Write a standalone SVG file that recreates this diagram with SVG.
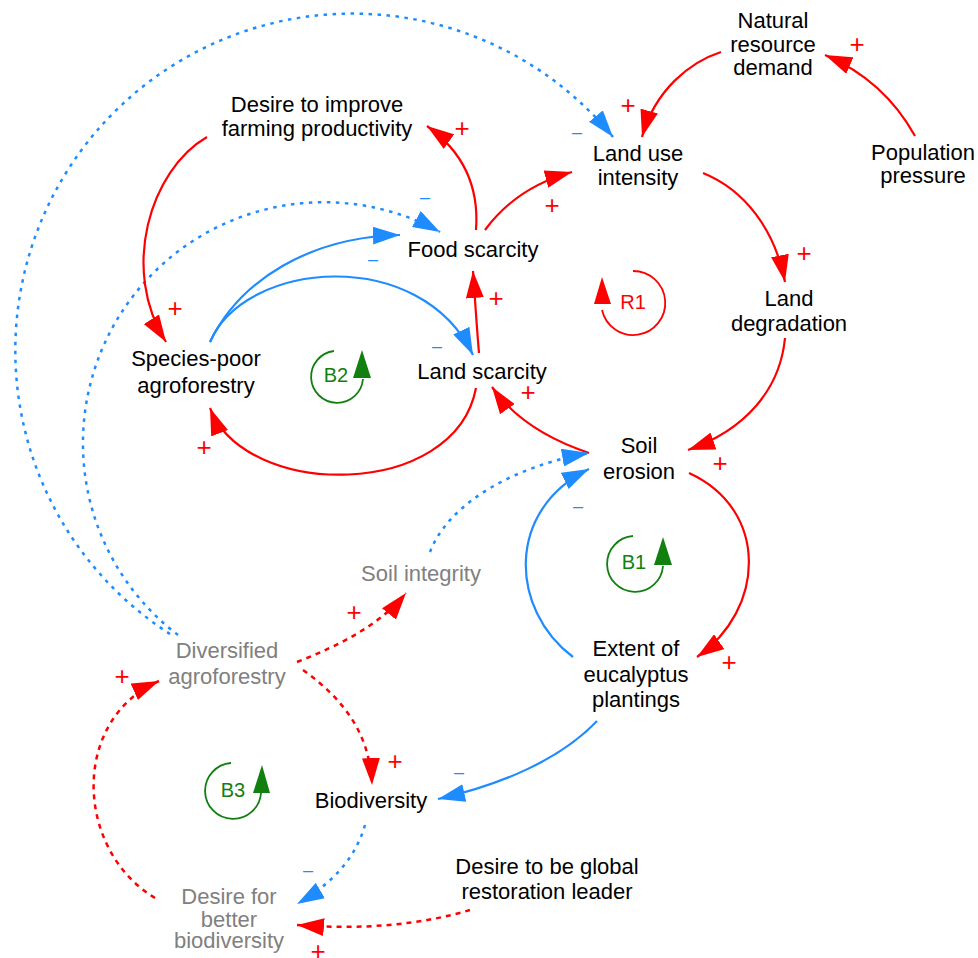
<svg xmlns="http://www.w3.org/2000/svg" width="978" height="958" viewBox="0 0 978 958">
<style>
  .n { font-family: "Liberation Sans", Arial, sans-serif; font-size: 22px; fill: #000; text-anchor: middle; }
  .g { fill: #808080; }
  .lp { font-family: "Liberation Sans", Arial, sans-serif; font-size: 20px; text-anchor: middle; }
  .sp { font-family: "Liberation Sans", Arial, sans-serif; font-size: 26px; fill: #ff0000; text-anchor: middle; }
  .sm { font-family: "Liberation Sans", Arial, sans-serif; font-size: 18px; fill: #1e8cff; text-anchor: middle; }
  .r { fill: none; stroke: #ff0000; stroke-width: 2.2; }
  .b { fill: none; stroke: #1e8cff; stroke-width: 2.2; }
  .rd { fill: none; stroke: #ff0000; stroke-width: 2.5; stroke-dasharray: 5 5; }
  .bd { fill: none; stroke: #1e8cff; stroke-width: 2.5; stroke-dasharray: 3.5 5.5; }
  .ra { marker-end: url(#ar); }
  .ba { marker-end: url(#ab); }
  .loopR { fill: none; stroke: #ff0000; stroke-width: 1.8; }
  .loopG { fill: none; stroke: #118011; stroke-width: 1.8; }
</style>
<defs>
  <marker id="ar" viewBox="0 0 27 18" refX="27" refY="9" markerWidth="27" markerHeight="18" markerUnits="userSpaceOnUse" orient="auto">
    <path d="M0,0 L27,9 L0,18 Z" fill="#ff0000"/>
  </marker>
  <marker id="ab" viewBox="0 0 27 18" refX="27" refY="9" markerWidth="27" markerHeight="18" markerUnits="userSpaceOnUse" orient="auto">
    <path d="M0,0 L27,9 L0,18 Z" fill="#1e8cff"/>
  </marker>
</defs>

<g id="connectors">
  <!-- Natural resource demand -> Land use intensity -->
  <path class="r ra" d="M721,52 C690,62 655,90 642,137"/>
  <!-- Population pressure -> Natural resource demand -->
  <path class="r ra" d="M915,136 C895,100 865,72 825,55"/>
  <!-- Diversified agroforestry -> Land use intensity (outer dotted) -->
  <path class="bd ba" d="M170,634 A337,337 0 1 1 613,137"/>
  <!-- Diversified agroforestry -> Food scarcity (inner dotted) -->
  <path class="bd ba" d="M178,635 A241,241 0 0 1 440,232"/>
  <!-- Desire to improve -> Species-poor -->
  <path class="r ra" d="M207,137 C150,170 120,270 166,342"/>
  <!-- Food scarcity -> Desire to improve -->
  <path class="r ra" d="M476,230 C479,190 465,153 427,126"/>
  <!-- Food scarcity -> Land use intensity -->
  <path class="r ra" d="M485,230 C505,203 535,182 572,172"/>
  <!-- Land use intensity -> Land degradation -->
  <path class="r ra" d="M703,173 C745,190 775,230 785,282"/>
  <!-- Land degradation -> Soil erosion -->
  <path class="r ra" d="M785,338 C780,390 745,430 688,450"/>
  <!-- Soil erosion -> Land scarcity -->
  <path class="r ra" d="M589,453 C550,440 515,420 492,387"/>
  <!-- Land scarcity -> Food scarcity -->
  <path class="r ra" d="M479,353 C477,330 475,300 473,271"/>
  <!-- Land scarcity -> Species-poor -->
  <path class="r ra" d="M476,388 C455,500 245,500 210,408"/>
  <!-- Species-poor -> Food scarcity -->
  <path class="b ba" d="M210,342 C240,280 310,237 400,235"/>
  <!-- Species-poor -> Land scarcity -->
  <path class="b ba" d="M210,342 C245,260 420,245 473,355"/>
  <!-- Soil integrity -> Soil erosion -->
  <path class="bd ba" d="M430,552 C450,500 520,465 589,453"/>
  <!-- Extent -> Soil erosion -->
  <path class="b ba" d="M573,657 C510,610 505,510 589,469"/>
  <!-- Soil erosion -> Extent -->
  <path class="r ra" d="M689,473 C770,510 765,610 697,657"/>
  <!-- Extent -> Biodiversity -->
  <path class="b ba" d="M597,721 C560,760 500,785 438,799"/>
  <!-- Diversified -> Soil integrity -->
  <path class="rd ra" d="M297,662 C340,645 380,625 406,593"/>
  <!-- Diversified -> Biodiversity -->
  <path class="rd ra" d="M303,670 C345,700 370,735 372,785"/>
  <!-- Biodiversity -> Desire for better biodiversity -->
  <path class="bd ba" d="M365,825 C355,860 330,885 297,904"/>
  <!-- Desire for better biodiversity -> Diversified -->
  <path class="rd ra" d="M155,898 C75,850 70,720 159,681"/>
  <!-- Desire to be global leader -> Desire for better biodiversity -->
  <path class="rd ra" d="M470,910 C420,925 360,930 297,925"/>

  <!-- polarity signs -->
  <text class="sp" x="628" y="114">+</text>
  <text class="sp" x="857" y="53">+</text>
  <text class="sm" x="577" y="138">–</text>
  <text class="sp" x="462" y="137">+</text>
  <text class="sp" x="552" y="214">+</text>
  <text class="sp" x="804" y="262">+</text>
  <text class="sp" x="720" y="472">+</text>
  <text class="sp" x="528" y="401">+</text>
  <text class="sp" x="496" y="307">+</text>
  <text class="sp" x="204" y="456">+</text>
  <text class="sp" x="175" y="317">+</text>
  <text class="sm" x="425" y="203">–</text>
  <text class="sm" x="373" y="265">–</text>
  <text class="sm" x="437" y="352">–</text>
  <text class="sm" x="578" y="512">–</text>
  <text class="sp" x="729" y="671">+</text>
  <text class="sm" x="459" y="778">–</text>
  <text class="sp" x="354" y="621">+</text>
  <text class="sp" x="395" y="770">+</text>
  <text class="sm" x="308" y="876">–</text>
  <text class="sp" x="122" y="685">+</text>
  <text class="sp" x="318" y="960">+</text>
</g>

<g id="loop-R1">
  <path class="loopR" d="M633,271 A32,32 0 1 1 602,310"/>
  <polygon points="602,277 594,304 611,304" fill="#ff0000"/>
  <text class="lp" x="633" y="309" fill="#ff0000">R1</text>
</g>
<g id="loop-B2">
  <path class="loopG" d="M334,351 A26,26 0 1 0 363,379"/>
  <polygon points="362,350 353,378 371,378" fill="#118011"/>
  <text class="lp" x="336" y="382" fill="#118011">B2</text>
</g>
<g id="loop-B1">
  <path class="loopG" d="M633,536 A28,28 0 1 0 663,566"/>
  <polygon points="663,537 654,565 672,565" fill="#118011"/>
  <text class="lp" x="634" y="569" fill="#118011">B1</text>
</g>
<g id="loop-B3">
  <path class="loopG" d="M231,763 A28,28 0 1 0 261,793"/>
  <polygon points="262,765 253,793 270,793" fill="#118011"/>
  <text class="lp" x="233" y="797" fill="#118011">B3</text>
</g>

<g id="natural-resource-demand">
  <text class="n" x="773" y="28">Natural</text>
  <text class="n" x="773" y="52">resource</text>
  <text class="n" x="773" y="75">demand</text>
</g>
<g id="desire-improve-farming">
  <text class="n" x="317" y="112">Desire to improve</text>
  <text class="n" x="317" y="136">farming productivity</text>
</g>
<g id="land-use-intensity">
  <text class="n" x="638" y="161">Land use</text>
  <text class="n" x="638" y="185">intensity</text>
</g>
<g id="population-pressure">
  <text class="n" x="923" y="160">Population</text>
  <text class="n" x="923" y="183">pressure</text>
</g>
<g id="food-scarcity">
  <text class="n" x="473" y="257">Food scarcity</text>
</g>
<g id="land-degradation">
  <text class="n" x="789" y="306">Land</text>
  <text class="n" x="789" y="331">degradation</text>
</g>
<g id="species-poor-agroforestry">
  <text class="n" x="196" y="366">Species-poor</text>
  <text class="n" x="196" y="393">agroforestry</text>
</g>
<g id="land-scarcity">
  <text class="n" x="482" y="379">Land scarcity</text>
</g>
<g id="soil-erosion">
  <text class="n" x="639" y="453">Soil</text>
  <text class="n" x="639" y="479">erosion</text>
</g>
<g id="soil-integrity">
  <text class="n g" x="421" y="581">Soil integrity</text>
</g>
<g id="diversified-agroforestry">
  <text class="n g" x="227" y="658">Diversified</text>
  <text class="n g" x="227" y="684">agroforestry</text>
</g>
<g id="extent-eucalyptus">
  <text class="n" x="636" y="656">Extent of</text>
  <text class="n" x="636" y="682">eucalyptus</text>
  <text class="n" x="636" y="707">plantings</text>
</g>
<g id="biodiversity">
  <text class="n" x="371" y="808">Biodiversity</text>
</g>
<g id="desire-global-leader">
  <text class="n" x="547" y="874">Desire to be global</text>
  <text class="n" x="547" y="899">restoration leader</text>
</g>
<g id="desire-better-biodiversity">
  <text class="n g" x="229" y="904">Desire for</text>
  <text class="n g" x="229" y="927">better</text>
  <text class="n g" x="229" y="948">biodiversity</text>
</g>
</svg>
